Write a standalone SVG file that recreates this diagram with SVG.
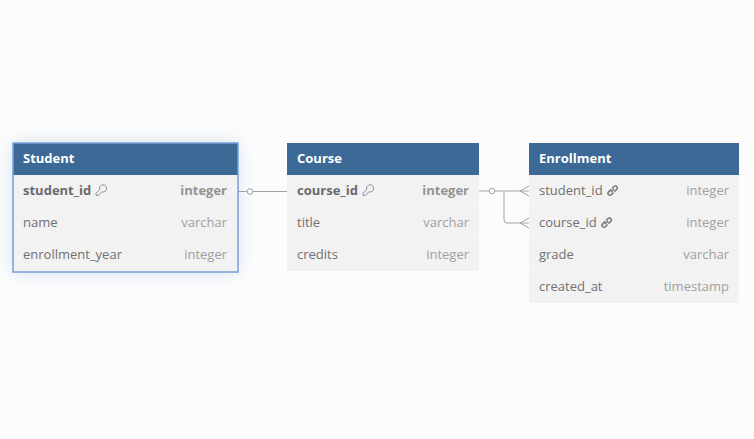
<svg xmlns="http://www.w3.org/2000/svg" width="754" height="439" viewBox="0 0 754 439">
<style>
text{font-family:"Open Sans","Noto Sans",sans-serif;font-size:13px}
.h{fill:#3c6995}
.b{fill:#f2f2f2}
.t{fill:#fff;font-weight:700}
.n{fill:#707070}
.ty{fill:#a0a0a0;text-anchor:end}
.k{font-weight:700}
.kn{fill:#6a6a6a}
.kt{fill:#939393}
.sep{stroke:#f7f7f7;stroke-width:1}
.c{fill:none;stroke:#9fa3ab;stroke-width:1}
.o{fill:#fcfcfc;stroke:#9fa3ab;stroke-width:1}
.ic{fill:none;stroke:#8f8f8f;stroke-width:1}
.ln{fill:none;stroke:#777;stroke-width:1.500}
</style>
<defs>
<filter id="glow" x="-25%" y="-40%" width="150%" height="180%"><feGaussianBlur stdDeviation="9"/></filter>
<g id="key"><path class="ic" d="M4.2 4.6A3.6 3.6 0 1 1 6.4 6.800L2.600 10.500H0.600V8.200Z"/></g>
<g id="link"><path class="ln" d="M4.200 3.800L1.600 6.400A1.900 1.900 0 0 0 4.400 9.200L6.600 7"/><path class="ln" d="M3.800 6.800L7.200 3.200"/><path class="ln" d="M5 2.800L7 1A1.900 1.900 0 0 1 9.800 3.800L7.400 6.200"/></g>
</defs>
<rect width="754" height="439" fill="#fcfcfc"/>
<g id="student-glow"><rect x="13" y="143" width="225" height="129" fill="#6f9fdc" opacity=".3" filter="url(#glow)"/></g>
<g id="connectors">
<path class="c" d="M238 191.500H287"/>
<circle class="o" cx="250" cy="191.500" r="2.800"/>
<path class="c" d="M479 191H529"/>
<path class="c" d="M504 191V220Q504 223 507 223H529"/>
<circle class="o" cx="492" cy="191" r="2.800"/>
<path class="c" d="M529 186L520 191L529 196"/>
<path class="c" d="M529 218L520 223L529 228"/>
</g>
<g id="student">
<rect class="b" x="13" y="143" width="225" height="129"/>
<rect class="h" x="13" y="143" width="225" height="32"/>
<path class="sep" d="M13 207.500H238M13 239.500H238"/>
<rect x="13" y="143" width="225" height="129" fill="none" stroke="#74a2d6" stroke-width="1.500"/>
<text class="t" x="23" y="163">Student</text>
<text class="kn k" x="23" y="195">student_id</text>
<use href="#key" x="95.500" y="185"/>
<text class="kt k ty" x="227" y="195">integer</text>
<text class="n" x="23" y="227">name</text>
<text class="ty" x="227" y="227">varchar</text>
<text class="n" x="23" y="259">enrollment_year</text>
<text class="ty" x="227" y="259">integer</text>
</g>
<g id="course">
<rect class="b" x="287" y="143" width="192" height="128"/>
<rect class="h" x="287" y="143" width="192" height="32"/>
<path class="sep" d="M287 207.500H479M287 239.500H479"/>
<text class="t" x="297" y="163">Course</text>
<text class="kn k" x="297" y="195">course_id</text>
<use href="#key" x="362.500" y="185"/>
<text class="kt k ty" x="469" y="195">integer</text>
<text class="n" x="297" y="227">title</text>
<text class="ty" x="469" y="227">varchar</text>
<text class="n" x="297" y="259">credits</text>
<text class="ty" x="469" y="259">integer</text>
</g>
<g id="enrollment">
<rect class="b" x="529" y="143" width="210" height="160"/>
<rect class="h" x="529" y="143" width="210" height="32"/>
<path class="sep" d="M529 207.500H739M529 239.500H739M529 271.500H739"/>
<text class="t" x="539" y="163">Enrollment</text>
<text class="n" x="539" y="195">student_id</text>
<use href="#link" x="607" y="185.500"/>
<text class="ty" x="729" y="195">integer</text>
<text class="n" x="539" y="227">course_id</text>
<use href="#link" x="601" y="217.500"/>
<text class="ty" x="729" y="227">integer</text>
<text class="n" x="539" y="259">grade</text>
<text class="ty" x="729" y="259">varchar</text>
<text class="n" x="539" y="291">created_at</text>
<text class="ty" x="729" y="291">timestamp</text>
</g>
</svg>
